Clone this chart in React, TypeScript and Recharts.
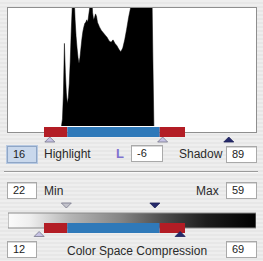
import React from "react";
import {
  AreaChart,
  Area,
  ComposedChart,
  Scatter,
  ReferenceArea,
  XAxis,
  YAxis,
} from "recharts";

// histogram of the image levels (0-255), counts scaled so 100 = top of the panel
const histLevels = [
  55, 56, 57, 58, 59, 60, 61, 62, 63, 64, 65, 66, 67, 68, 69, 70, 71, 72, 73, 74,
  75, 76, 77, 78, 79, 80, 81, 82, 83, 84, 85, 86, 87, 88, 89, 90, 91, 92, 94, 96,
  98, 100, 102, 104, 106, 108, 110, 112, 114, 116, 118, 120, 122, 124, 126, 127,
  148, 149, 150,
];
const histCounts = [
  0, 6, 28, 70, 45, 28, 19, 24, 36, 55, 80, 100, 115, 110, 90, 76, 66, 58, 53, 58,
  66, 74, 80, 84, 87, 88, 90, 88, 94, 100, 115, 110, 96, 90, 92, 95, 93, 88, 84, 81,
  79, 77, 75, 72, 71, 73, 70, 68, 65, 63, 66, 73, 82, 92, 100, 115,
  115, 55, 0,
];

// highlight clip | midtones | shadow clip
const rangeBounds = [37, 61, 156, 182];
const rangeColors = ["#b31d25", "#2f79b9", "#b31d25"];

const levelMarkers = [43, 159, 227];
const levelMarkerKinds = ["light", "light", "dark"];
const cscTopMarkers = [60, 151];
const cscTopKinds = ["gray", "dark"];
const cscBottomMarkers = [32, 177];
const cscBottomKinds = ["light", "dark"];

const histData = histLevels.map((level, i) => ({ level, count: histCounts[i] }));

const MARKER_COLORS: Record<string, { fill: string; stroke: string }> = {
  light: { fill: "#c6c2e4", stroke: "#77778c" },
  gray: { fill: "#c4c4cc", stroke: "#77778a" },
  dark: { fill: "#252a6c", stroke: "#1c1f55" },
};

const Tri = (props: any) => {
  const { cx, cy, payload } = props;
  const w = 5;
  const h = 5;
  const c = MARKER_COLORS[payload.kind];
  const pts =
    payload.dir === "up"
      ? `${cx - w},${cy + h / 2} ${cx + w},${cy + h / 2} ${cx},${cy - h / 2}`
      : `${cx - w},${cy - h / 2} ${cx + w},${cy - h / 2} ${cx},${cy + h / 2}`;
  return <polygon points={pts} fill={c.fill} stroke={c.stroke} strokeWidth={0.8} />;
};

const FONT = "'Liberation Sans', Arial, sans-serif";

const Field = ({ x, y, w, value, focused }: { x: number; y: number; w: number; value: string; focused?: boolean }) => (
  <div
    style={{
      position: "absolute",
      left: x,
      top: y,
      width: w,
      height: 17,
      boxSizing: "border-box",
      border: focused ? "1px solid #8fa6c6" : "1px solid #a9a9a9",
      boxShadow: focused ? "0 0 0 1px #b7c9e2" : "inset 0 1px 0 #d8d8d8",
      background: focused ? "#c9d8ec" : "#fff",
      fontSize: 11,
      lineHeight: "15px",
      paddingLeft: 5,
      color: "#222",
    }}
  >
    {value}
  </div>
);

const Label = ({ x, y, text }: { x: number; y: number; text: string }) => (
  <div style={{ position: "absolute", left: x, top: y - 8, fontSize: 12, lineHeight: "16px", color: "#2a2a2a" }}>
    {text}
  </div>
);

const rangeAreas = (y1: number, y2: number) =>
  rangeColors.map((c, i) => (
    <ReferenceArea
      key={`r-${y1}-${i}`}
      x1={rangeBounds[i]}
      x2={rangeBounds[i + 1]}
      y1={y1}
      y2={y2}
      fill={c}
      fillOpacity={1}
      stroke="none"
      ifOverflow="visible"
    />
  ));

export default function App() {
  const levelMarkerData = levelMarkers.map((x, i) => ({ x, y: 13.5, kind: levelMarkerKinds[i], dir: "up" }));
  const cscMarkerData = [
    ...cscTopMarkers.map((x, i) => ({ x, y: 5.5, kind: cscTopKinds[i], dir: "down" })),
    ...cscBottomMarkers.map((x, i) => ({ x, y: 34, kind: cscBottomKinds[i], dir: "up" })),
  ];

  return (
    <div
      style={{
        position: "fixed",
        left: 0,
        top: 0,
        width: 263,
        height: 261,
        overflow: "hidden",
        fontFamily: FONT,
        background: "repeating-linear-gradient(to bottom, #eeeeee 0px, #eeeeee 2px, #e7e7e7 2px, #e7e7e7 4px)",
      }}
    >
      <svg width={0} height={0} style={{ position: "absolute" }}>
        <defs>
          <linearGradient id="cscGrad" x1="0" y1="0" x2="1" y2="0">
            <stop offset="0%" stopColor="#fbfbfb" />
            <stop offset="9%" stopColor="#eeeeee" />
            <stop offset="25%" stopColor="#b5b5b5" />
            <stop offset="45%" stopColor="#868686" />
            <stop offset="62%" stopColor="#4e4e4e" />
            <stop offset="80%" stopColor="#1c1c1c" />
            <stop offset="100%" stopColor="#000" />
          </linearGradient>
        </defs>
      </svg>

      {/* histogram panel */}
      <div
        style={{
          position: "absolute",
          left: 7,
          top: 7,
          width: 250,
          height: 126,
          boxSizing: "border-box",
          background: "#fff",
          border: "1px solid #8e8e8e",
        }}
      />
      <div style={{ position: "absolute", left: 8, top: 8 }}>
        <AreaChart width={248} height={118} data={histData} margin={{ top: 0, right: 0, bottom: 0, left: 0 }}>
          <XAxis dataKey="level" type="number" domain={[0, 255]} hide allowDataOverflow />
          <YAxis type="number" domain={[0, 100]} hide allowDataOverflow />
          <Area
            dataKey="count"
            type="linear"
            fill="#000"
            fillOpacity={1}
            stroke="#000"
            strokeWidth={0.5}
            isAnimationActive={false}
          />
        </AreaChart>
      </div>

      {/* level range strip */}
      <div style={{ position: "absolute", left: 8, top: 126 }}>
        <ComposedChart width={248} height={20} margin={{ top: 0, right: 0, bottom: 0, left: 0 }}>
          <XAxis dataKey="x" type="number" domain={[0, 255]} hide />
          <YAxis dataKey="y" type="number" domain={[0, 20]} reversed hide />
          {rangeAreas(1, 11)}
          <Scatter data={levelMarkerData} shape={<Tri />} isAnimationActive={false} />
        </ComposedChart>
      </div>

      <Field x={7} y={146} w={30} value="16" focused />
      <Label x={44} y={154} text="Highlight" />
      <div
        style={{
          position: "absolute",
          left: 116,
          top: 146,
          fontSize: 13,
          fontWeight: "bold",
          lineHeight: "16px",
          color: "#7f72cf",
        }}
      >
        L
      </div>
      <Field x={131} y={145} w={32} value="-6" />
      <Label x={179} y={154} text="Shadow" />
      <Field x={226} y={146} w={31} value="89" />

      <div
        style={{
          position: "absolute",
          left: 4,
          top: 171,
          width: 254,
          height: 1,
          background: "#9a9a9a",
          borderBottom: "1px solid #fafafa",
        }}
      />

      <Field x={7} y={182} w={30} value="22" />
      <Label x={44} y={191} text="Min" />
      <Label x={196} y={191} text="Max" />
      <Field x={226} y={182} w={31} value="59" />

      {/* color space compression strip */}
      <div style={{ position: "absolute", left: 8, top: 200 }}>
        <ComposedChart width={248} height={40} margin={{ top: 0, right: 0, bottom: 0, left: 0 }}>
          <XAxis dataKey="x" type="number" domain={[0, 255]} hide />
          <YAxis dataKey="y" type="number" domain={[0, 40]} reversed hide />
          <ReferenceArea
            x1={0}
            x2={255}
            y1={13}
            y2={28}
            fill="url(#cscGrad)"
            fillOpacity={1}
            stroke="#8a8a8a"
            strokeWidth={1}
            ifOverflow="visible"
          />
          {rangeAreas(23, 33)}
          <Scatter data={cscMarkerData} shape={<Tri />} isAnimationActive={false} />
        </ComposedChart>
      </div>

      <Field x={7} y={241} w={30} value="12" />
      <Label x={67} y={251} text="Color Space Compression" />
      <Field x={226} y={241} w={31} value="69" />
    </div>
  );
}
